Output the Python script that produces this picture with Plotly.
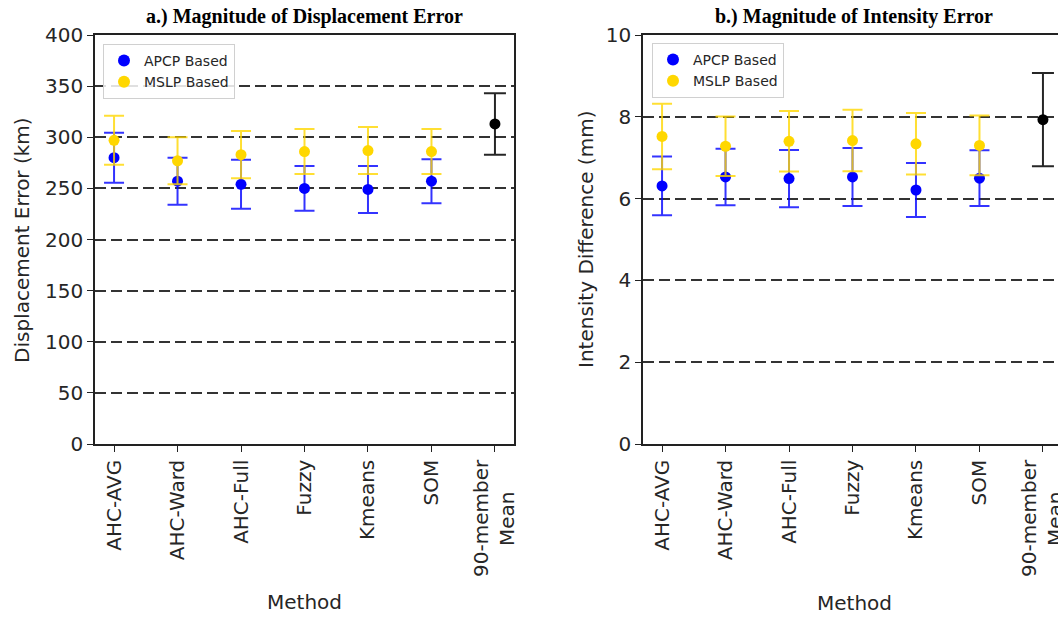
import plotly.graph_objects as go

# ---- data ----
methods = ["AHC-AVG", "AHC-Ward", "AHC-Full", "Fuzzy", "Kmeans", "SOM"]
mean_label = "90-member<br>Mean\u00a0\u00a0\u00a0\u00a0\u00a0"
tick_labels = methods + [mean_label]

# a.) displacement error (km)
apcp_disp = [280, 257, 254, 250, 249, 257]
apcp_disp_err = [24.5, 23, 24, 22, 23, 21.5]
mslp_disp = [297, 277, 283, 286, 287, 286]
mslp_disp_err = [24, 23, 23, 22, 23, 22]
mean_disp = [313]
mean_disp_err = [30]

# b.) intensity difference (mm)
apcp_int = [6.31, 6.53, 6.49, 6.53, 6.21, 6.50]
apcp_int_err = [0.72, 0.69, 0.70, 0.71, 0.66, 0.68]
mslp_int = [7.52, 7.28, 7.40, 7.42, 7.34, 7.30]
mslp_int_err = [0.80, 0.73, 0.74, 0.75, 0.75, 0.73]
mean_int = [7.93]
mean_int_err = [1.14]

xpos = list(range(len(methods)))
xmean = [len(methods)]
tickvals = list(range(len(tick_labels)))

W, H = 1058, 617
BLUE = "#0000ff"
GOLD = "#ffd700"
FONT = "DejaVu Sans"
TXT = "#262626"

fig = go.Figure()


def add_panel(xa, ya, apcp, apcp_err, mslp, mslp_err, mean, mean_err, legend):
    fig.add_trace(go.Scatter(
        x=xpos, y=apcp, mode="markers", name="APCP Based",
        marker=dict(color=BLUE, size=11),
        error_y=dict(type="data", array=apcp_err, color="rgba(0,0,255,0.8)",
                     thickness=2, width=10),
        xaxis=xa, yaxis=ya, legend=legend))
    fig.add_trace(go.Scatter(
        x=xpos, y=mslp, mode="markers", name="MSLP Based",
        marker=dict(color=GOLD, size=11),
        error_y=dict(type="data", array=mslp_err, color="rgba(255,215,0,0.8)",
                     thickness=2, width=10),
        xaxis=xa, yaxis=ya, legend=legend))
    fig.add_trace(go.Scatter(
        x=xmean, y=mean, mode="markers", showlegend=False,
        marker=dict(color="black", size=11),
        error_y=dict(type="data", array=mean_err, color="rgba(0,0,0,0.85)",
                     thickness=2, width=11),
        xaxis=xa, yaxis=ya))


add_panel("x", "y", apcp_disp, apcp_disp_err, mslp_disp, mslp_disp_err,
          mean_disp, mean_disp_err, "legend")
add_panel("x2", "y2", apcp_int, apcp_int_err, mslp_int, mslp_int_err,
          mean_int, mean_int_err, "legend2")

# pixel geometry
top_px, bot_px = 35, 444
ydom = [1 - bot_px / H, 1 - top_px / H]
L1, R1 = 95, 514
L2 = 643
unit = (R1 - L1) / 6.6
r2_end = -0.3 + (W - L2) / unit

axis_common = dict(
    showline=True, linecolor="#222", linewidth=1.5,
    ticks="outside", ticklen=6, tickwidth=1.2, tickcolor="#222",
    tickfont=dict(family=FONT, size=20, color=TXT),
    zeroline=False, automargin=False, ticklabeloverflow="allow",
)
grid_common = dict(showgrid=True, gridcolor="#333", gridwidth=2, griddash="11px,5px")

fig.update_layout(
    width=W, height=H,
    margin=dict(l=0, r=0, t=0, b=0, autoexpand=False),
    paper_bgcolor="white", plot_bgcolor="white",
    font=dict(family=FONT, color=TXT),
    xaxis=dict(domain=[L1 / W, R1 / W], range=[-0.3, 6.3], tickvals=tickvals,
               ticktext=tick_labels, tickangle=-90, showgrid=False, mirror=True,
               anchor="y", **axis_common),
    yaxis=dict(domain=ydom, range=[0, 400], tickvals=list(range(0, 401, 50)),
               mirror=True, anchor="x", **grid_common, **axis_common),
    xaxis2=dict(domain=[L2 / W, 1.0], range=[-0.3, r2_end], tickvals=tickvals,
                ticktext=tick_labels, tickangle=-90, showgrid=False, mirror=True,
                anchor="y2", **axis_common),
    yaxis2=dict(domain=ydom, range=[0, 10], tickvals=list(range(0, 11, 2)),
                mirror=False, anchor="x2", **grid_common, **axis_common),
    legend=dict(x=103 / W, y=1 - 44 / H, xanchor="left", yanchor="top",
                bgcolor="rgba(255,255,255,0.85)", bordercolor="#d0d0d0",
                borderwidth=1, font=dict(family=FONT, size=14, color=TXT),
                tracegroupgap=0, itemsizing="constant"),
    legend2=dict(x=652 / W, y=1 - 43 / H, xanchor="left", yanchor="top",
                 bgcolor="rgba(255,255,255,0.85)", bordercolor="#d0d0d0",
                 borderwidth=1, font=dict(family=FONT, size=14, color=TXT),
                 tracegroupgap=0, itemsizing="constant"),
    showlegend=True,
)

ann_font = dict(family=FONT, size=20, color=TXT)
title_font = dict(family="Liberation Serif", size=20, color="black")
annotations = [
    dict(text="<b>a.) Magnitude of Displacement Error</b>", x=(L1 + R1) / 2 / W,
         y=1 - 17 / H, font=title_font),
    dict(text="<b>b.) Magnitude of Intensity Error</b>", x=854 / W,
         y=1 - 17 / H, font=title_font),
    dict(text="Method", x=(L1 + R1) / 2 / W, y=1 - 602 / H, font=ann_font),
    dict(text="Method", x=854 / W, y=1 - 603 / H, font=ann_font),
    dict(text="Displacement Error (km)", x=22 / W, y=1 - 240 / H,
         textangle=-90, font=ann_font),
    dict(text="Intensity Difference (mm)", x=586 / W, y=1 - 240 / H,
         textangle=-90, font=ann_font),
]
for a in annotations:
    a.update(xref="paper", yref="paper", xanchor="center", yanchor="middle",
             showarrow=False)
fig.update_layout(annotations=annotations)

fig.write_html("out.html")
